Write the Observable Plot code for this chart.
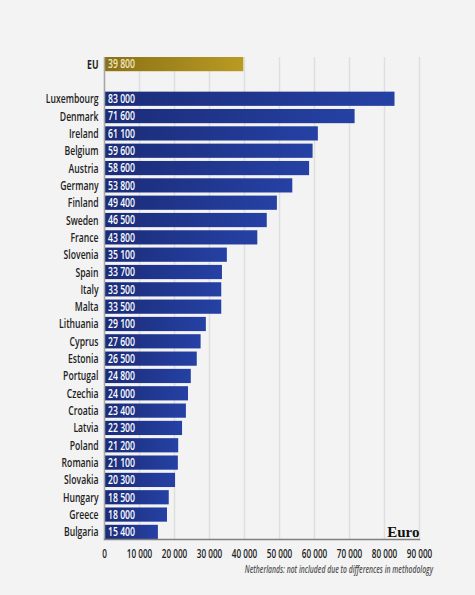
<!DOCTYPE html>
<html>
<head>
<meta charset="utf-8">
<script src="https://cdn.jsdelivr.net/npm/d3@7"></script>
<script src="https://cdn.jsdelivr.net/npm/@observablehq/plot@0.6"></script>
<style>
html,body{margin:0;padding:0;background:#f3f3f3;}
#chart{width:475px;height:595px;position:relative;overflow:hidden;}
svg{display:block;}
.note{margin:1px 0 0 0;width:433px;text-align:right;white-space:nowrap;font:italic 600 10px "Open Sans",sans-serif;color:#555;line-height:12px;transform:scaleX(.68);transform-origin:right center;}
</style>
</head>
<body>
<div id="chart"></div>
<script>
const countries = ["Luxembourg","Denmark","Ireland","Belgium","Austria","Germany","Finland","Sweden","France","Slovenia","Spain","Italy","Malta","Lithuania","Cyprus","Estonia","Portugal","Czechia","Croatia","Latvia","Poland","Romania","Slovakia","Hungary","Greece","Bulgaria"];
const values = [83000,71600,61100,59600,58600,53800,49400,46500,43800,35100,33700,33500,33500,29100,27600,26500,24800,24000,23400,22300,21200,21100,20300,18500,18000,15400];
const euLabel = "EU";
const euValue = 39800;
const gap = " ";
const xTicks = [0,10000,20000,30000,40000,50000,60000,70000,80000,90000];
const unit = "Euro";
const note = "Netherlands: not included due to differences in methodology";

const fontFamily = '"Open Sans",sans-serif';
const fmt = v => d3.format(",")(v).replace(/,/g, " ");
const rows = countries.map((name, i) => ({name, value: values[i]}));
const eu = [{name: euLabel, value: euValue}];
const lastCountry = countries[countries.length - 1];

const plot = Plot.plot({
  width: 475,
  height: 562,
  marginLeft: 104,
  marginRight: 56,
  marginTop: 57,
  marginBottom: 23,
  style: {background: "transparent", fontFamily, overflow: "visible"},
  x: {domain: [0, 90000], ticks: xTicks, label: null},
  y: {domain: [euLabel, gap, ...countries], padding: 0.18, paddingOuter: 0, round: false, label: null, axis: null},
  marks: [
    Plot.gridX(xTicks, {stroke: "#dfdfdf", strokeOpacity: 1, strokeWidth: 1.5}),
    Plot.barX(rows, {x: "value", y: "name", fill: "url(#blueGrad)"}),
    Plot.barX(eu, {x: "value", y: "name", fill: "url(#goldGrad)"}),
    Plot.ruleX([0], {stroke: "#a8a8a8", strokeWidth: 1.5}),
    Plot.frame({anchor: "bottom", stroke: "#808080", strokeWidth: 1.5}),
    Plot.axisX({ticks: xTicks, tickSize: 0, tickPadding: 10, tickFormat: fmt, label: null, fontSize: 12, fontWeight: 600, fill: "#222"}),
    Plot.text(countries, {x: () => 0, y: d => d, text: d => d, textAnchor: "end", dx: -6, fontSize: 12.5, fontWeight: 600, fill: "#222"}),
    Plot.text(eu, {x: () => 0, y: "name", text: "name", textAnchor: "end", dx: -6, fontSize: 12.5, fontWeight: "bold", fill: "#222"}),
    Plot.text(rows, {x: () => 0, y: "name", text: d => fmt(d.value), textAnchor: "start", dx: 3.5, fontSize: 12, fontWeight: 600, fill: "#fff"}),
    Plot.text(eu, {x: () => 0, y: "name", text: d => fmt(d.value), textAnchor: "start", dx: 3.5, fontSize: 12, fontWeight: 600, fill: "#efe6c0"}),
    Plot.text([unit], {x: () => 90000, y: () => lastCountry, text: d => d, textAnchor: "end", fontFamily: '"Liberation Serif",serif', fontWeight: "bold", fontSize: 15, fill: "#111"})
  ]
});

const defs = d3.select(plot).append("defs");
const addGrad = (id, stops) => {
  const g = defs.append("linearGradient").attr("id", id).attr("x1", "0").attr("x2", "1").attr("y1", "0").attr("y2", "0");
  stops.forEach(([o, c]) => g.append("stop").attr("offset", o).attr("stop-color", c));
};
addGrad("blueGrad", [[0, "#1b2c78"], [1, "#2541a4"]]);
addGrad("goldGrad", [[0, "#8a7116"], [1, "#b99a22"]]);

const root = document.getElementById("chart");
root.appendChild(plot);
const cap = document.createElement("p");
cap.className = "note";
cap.textContent = note;
root.appendChild(cap);

// The reference's lettering is condensed; no condensed family is installed, so narrow the glyphs.
const names = new Set([euLabel, ...countries]);
plot.querySelectorAll("text").forEach(t => {
  const s = t.textContent;
  if (s === unit) return;
  const isTick = t.closest('[aria-label="x-axis tick label"]') !== null;
  const factor = names.has(s) ? 0.69 : isTick ? 0.68 : 0.72;
  t.setAttribute("textLength", (t.getComputedTextLength() * factor).toFixed(1));
  t.setAttribute("lengthAdjust", "spacingAndGlyphs");
});
</script>
</body>
</html>
